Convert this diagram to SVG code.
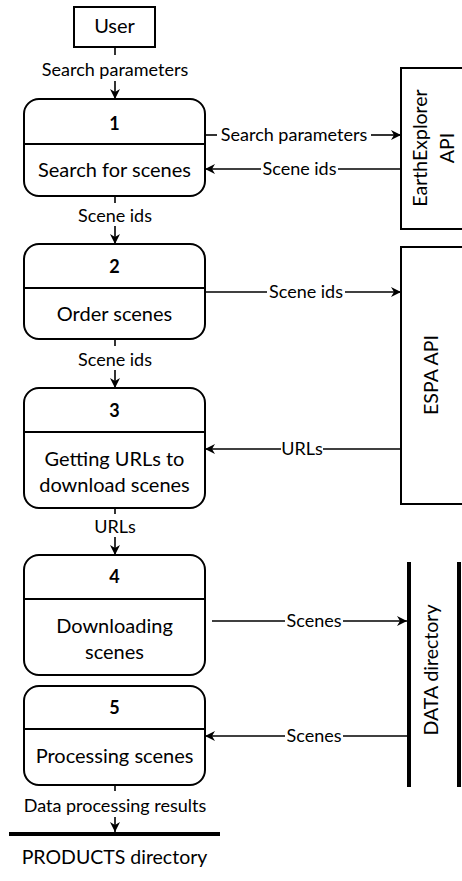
<svg xmlns="http://www.w3.org/2000/svg" width="462" height="881" viewBox="0 0 462 881">
<style>
text{font-family:Lato,"Open Sans","Liberation Sans",sans-serif;fill:#000}
.t{font-size:20px;text-anchor:middle}
.r{font-size:19.5px;text-anchor:middle}
.n{font-size:18px;font-weight:bold;text-anchor:middle}
.l{font-size:18px;text-anchor:middle}
.box{fill:#fff;stroke:#000;stroke-width:2}
.div{stroke:#000;stroke-width:2}
.c{stroke:#000;stroke-width:1.6;fill:none}
.ca{stroke:#000;stroke-width:1.6;fill:none;marker-end:url(#ah)}
</style>
<defs>
<marker id="ah" markerWidth="12" markerHeight="12" refX="10" refY="5" orient="auto" markerUnits="userSpaceOnUse" viewBox="0 0 12 10">
<path d="M0,0 L10,5 L0,10 L3,5 Z" fill="#000"/>
</marker>
</defs>
<rect width="462" height="881" fill="#fff"/>
<g id="connectors">
<line class="c" x1="115" y1="47" x2="115" y2="55"/>
<line class="ca" x1="115" y1="81" x2="115" y2="99"/>
<line class="c" x1="115" y1="196" x2="115" y2="203"/>
<line class="ca" x1="115" y1="226" x2="115" y2="244"/>
<line class="c" x1="115" y1="339" x2="115" y2="346"/>
<line class="ca" x1="115" y1="370" x2="115" y2="388"/>
<line class="c" x1="115" y1="508" x2="115" y2="514"/>
<line class="ca" x1="115" y1="537" x2="115" y2="555"/>
<line class="c" x1="115" y1="785" x2="115" y2="791"/>
<line class="ca" x1="115" y1="817" x2="115" y2="832"/>
<line class="c" x1="205" y1="135" x2="217" y2="135"/>
<line class="ca" x1="371" y1="135" x2="401" y2="135"/>
<line class="c" x1="401" y1="169" x2="338" y2="169"/>
<line class="ca" x1="261" y1="169" x2="205" y2="169"/>
<line class="c" x1="205" y1="292" x2="267" y2="292"/>
<line class="ca" x1="345" y1="292" x2="401" y2="292"/>
<line class="c" x1="401" y1="449" x2="323" y2="449"/>
<line class="ca" x1="281" y1="449" x2="205" y2="449"/>
<line class="c" x1="212" y1="621" x2="285" y2="621"/>
<line class="ca" x1="343" y1="621" x2="407" y2="621"/>
<line class="c" x1="407" y1="736" x2="343" y2="736"/>
<line class="ca" x1="285" y1="736" x2="205" y2="736"/>
<text class="l" x="115" y="76">Search parameters</text>
<text class="l" x="115" y="222">Scene ids</text>
<text class="l" x="115" y="366">Scene ids</text>
<text class="l" x="115" y="533">URLs</text>
<text class="l" x="115" y="812">Data processing results</text>
<text class="l" x="294" y="141">Search parameters</text>
<text class="l" x="299.5" y="175">Scene ids</text>
<text class="l" x="306" y="298">Scene ids</text>
<text class="l" x="302" y="455">URLs</text>
<text class="l" x="314" y="627">Scenes</text>
<text class="l" x="314" y="742">Scenes</text>
</g>
<g id="user">
<rect class="box" x="74" y="7" width="81" height="40"/>
<text class="t" x="114.5" y="33">User</text>
</g>
<g id="p1">
<rect class="box" x="24" y="99" width="181" height="97" rx="15"/>
<line class="div" x1="24" y1="144" x2="205" y2="144"/>
<text class="n" x="114.5" y="130">1</text>
<text class="t" x="114.5" y="177">Search for scenes</text>
</g>
<g id="p2">
<rect class="box" x="24" y="244" width="181" height="95" rx="15"/>
<line class="div" x1="24" y1="288" x2="205" y2="288"/>
<text class="n" x="114.5" y="273">2</text>
<text class="t" x="114.5" y="321">Order scenes</text>
</g>
<g id="p3">
<rect class="box" x="24" y="388" width="181" height="120" rx="15"/>
<line class="div" x1="24" y1="432" x2="205" y2="432"/>
<text class="n" x="114.5" y="417">3</text>
<text class="t" x="114.5" y="466">Getting URLs to</text>
<text class="t" x="114.5" y="492">download scenes</text>
</g>
<g id="p4">
<rect class="box" x="24" y="555" width="181" height="120" rx="15"/>
<line class="div" x1="24" y1="599" x2="205" y2="599"/>
<text class="n" x="114.5" y="583">4</text>
<text class="t" x="114.5" y="633">Downloading</text>
<text class="t" x="114.5" y="659">scenes</text>
</g>
<g id="p5">
<rect class="box" x="24" y="686" width="181" height="99" rx="15"/>
<line class="div" x1="24" y1="729" x2="205" y2="729"/>
<text class="n" x="114.5" y="714">5</text>
<text class="t" x="114.5" y="763">Processing scenes</text>
</g>
<g id="earthexplorer">
<rect class="box" x="401" y="68" width="70" height="161"/>
<text class="r" transform="translate(427,148) rotate(-90)">EarthExplorer</text>
<text class="r" transform="translate(454,148) rotate(-90)">API</text>
</g>
<g id="espa">
<rect class="box" x="401" y="247" width="70" height="257"/>
<text class="r" transform="translate(438,375) rotate(-90)">ESPA API</text>
</g>
<g id="data">
<line x1="409" y1="562" x2="409" y2="787" stroke="#000" stroke-width="4"/>
<line x1="459" y1="562" x2="459" y2="787" stroke="#000" stroke-width="4"/>
<text class="r" transform="translate(438,670) rotate(-90)">DATA directory</text>
</g>
<g id="products">
<line x1="9" y1="834" x2="220" y2="834" stroke="#000" stroke-width="4"/>
<text class="r" x="114.5" y="864">PRODUCTS directory</text>
</g>
</svg>
